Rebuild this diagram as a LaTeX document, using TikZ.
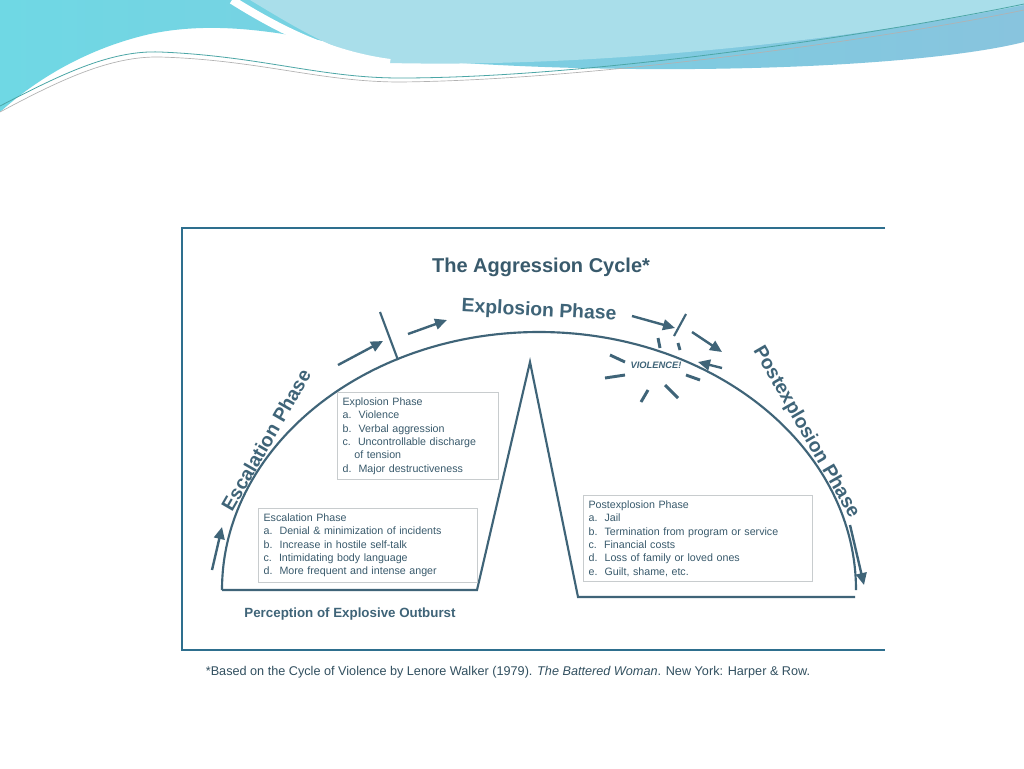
\documentclass[tikz,border=0pt]{standalone}
\usepackage{fontspec}
\setmainfont{Liberation Sans}
\usetikzlibrary{arrows.meta}
\definecolor{ink}{HTML}{3F6478}
\definecolor{frame}{HTML}{2E6F8E}
\definecolor{boxl}{HTML}{C8CCCE}
\definecolor{hblue}{HTML}{88C4DE}
\definecolor{hcyan}{HTML}{6FD8E4}
\definecolor{hlight}{HTML}{A9DEEA}
\tikzset{
  arc/.style={draw=ink, line width=1.6pt},
  arr/.style={draw=ink, line width=1.8pt, -{Triangle[length=9pt,width=8pt]}},
  lst/.style={draw=boxl, fill=white, align=left, anchor=north west, font=\fontsize{8}{10}\selectfont, text=ink!90!black, inner sep=4pt},
  phase/.style={font=\bfseries\fontsize{14.5}{15}\selectfont, text=ink},
  burst/.style={draw=ink, line width=2.2pt}
}
\begin{document}
\begin{tikzpicture}[x=0.75pt,y=-0.75pt]
\useasboundingbox (0,0) rectangle (1024,768);
\fill[white] (0,0) rectangle (1024,768);
% header
\shade[left color=hcyan, right color=hblue] (0,0) -- (1024,0) -- (1024,42) .. controls (920,68) and (650,78) .. (420,60) .. controls (330,45) and (240,15) .. (150,34) .. controls (80,50) and (30,85) .. (0,112) -- cycle;
\fill[hlight] (250,0) .. controls (300,30) and (340,55) .. (390,63) .. controls (600,68) and (850,40) .. (1024,5) -- (1024,0) -- cycle;
\draw[white, line width=6pt] (232,0) .. controls (280,30) and (330,55) .. (390,63);
\draw[teal!70, line width=0.6pt] (0,106) .. controls (60,75) and (110,50) .. (160,52) .. controls (260,56) and (320,78) .. (400,78) .. controls (600,78) and (900,30) .. (1024,4);
\draw[gray!60, line width=0.5pt] (0,112) .. controls (60,80) and (110,56) .. (160,57) .. controls (260,60) and (320,82) .. (400,82) .. controls (600,80) and (900,36) .. (1024,10);
% panel
\fill[white] (145,215) rectangle (885,708);
\draw[frame, line width=2pt] (885,228) -- (182,228) -- (182,650) -- (885,650);
\node (title) [font=\bfseries\fontsize{15}{16}\selectfont, text=ink!90!black] at (541,267) {The Aggression Cycle*};
% arc
\draw[arc] (222,590) arc[start angle=180, end angle=360, x radius=317, y radius=258];
% peak and baselines
\coordinate (b1) at (222,590); \coordinate (b2) at (477,590);
\coordinate (pk) at (530,362); \coordinate (b3) at (578,597); \coordinate (b4) at (855,597);
\draw[arc] (b1) -- (b2) -- (pk) -- (b3) -- (b4);
\node (perc) [font=\bfseries\fontsize{10}{11}\selectfont, text=ink] at (350,614) {Perception of Explosive Outburst};
% phase labels
\node (esc) [phase, rotate=60] at (266,440) {Escalation Phase};
\node (exp) [phase, rotate=-3] at (539,311) {Explosion Phase};
\node (post) [phase, rotate=-60] at (806,432) {Postexplosion Phase};
% arrows
\coordinate (a1s) at (212,570); \coordinate (a1e) at (222,527);
\draw[arr] (a1s) -- (a1e);
\coordinate (a2s) at (338,365); \coordinate (a2e) at (383,341);
\draw[arr] (a2s) -- (a2e);
\coordinate (a3s) at (408,334); \coordinate (a3e) at (447,320);
\draw[arr] (a3s) -- (a3e);
\coordinate (a4s) at (632,316); \coordinate (a4e) at (675,328);
\draw[arr] (a4s) -- (a4e);
\coordinate (a5s) at (692,332); \coordinate (a5e) at (722,352);
\draw[arr] (a5s) -- (a5e);
\coordinate (a6s) at (850,525); \coordinate (a6e) at (864,585);
\draw[arr] (a6s) -- (a6e);
\coordinate (a7s) at (722,368); \coordinate (a7e) at (698,362);
\draw[arr] (a7s) -- (a7e);
% slashes
\coordinate (s1a) at (380,312); \coordinate (s1b) at (398,360);
\draw[arc] (s1a) -- (s1b);
\coordinate (s2a) at (686,314); \coordinate (s2b) at (674,336);
\draw[arc] (s2a) -- (s2b);
% violence burst
\node (viol) [font=\bfseries\itshape\fontsize{7}{7}\selectfont, text=ink] at (656,365) {VIOLENCE!};
\draw[burst] (658,338) -- (660,348);
\draw[burst] (678,343) -- (680,350);
\draw[burst] (610,355) -- (625,362);
\draw[burst] (605,378) -- (625,375);
\draw[burst] (686,375) -- (700,380);
\draw[burst] (648,390) -- (641,402);
\draw[burst] (665,385) -- (678,398);
% boxes
\node (ebox) [lst, text width=150*0.75pt] at (337,392) {Explosion Phase\\
a.\ \ Violence\\
b.\ \ Verbal aggression\\
c.\ \ Uncontrollable discharge\\
\hspace*{1.1em}of tension\\
d.\ \ Major destructiveness};
\node (sbox) [lst, text width=208*0.75pt] at (258,508) {Escalation Phase\\
a.\ \ Denial \& minimization of incidents\\
b.\ \ Increase in hostile self-talk\\
c.\ \ Intimidating body language\\
d.\ \ More frequent and intense anger};
\node (pbox) [lst, text width=218*0.75pt] at (583,495) {Postexplosion Phase\\
a.\ \ Jail\\
b.\ \ Termination from program or service\\
c.\ \ Financial costs\\
d.\ \ Loss of family or loved ones\\
e.\ \ Guilt, shame, etc.};
\node (foot) [font=\fontsize{9.5}{10}\selectfont, text=ink!80!black] at (508,672) {*Based on the Cycle of Violence by Lenore Walker (1979). \textit{The Battered Woman}. New York: Harper \& Row.};
\end{tikzpicture}
\end{document}
